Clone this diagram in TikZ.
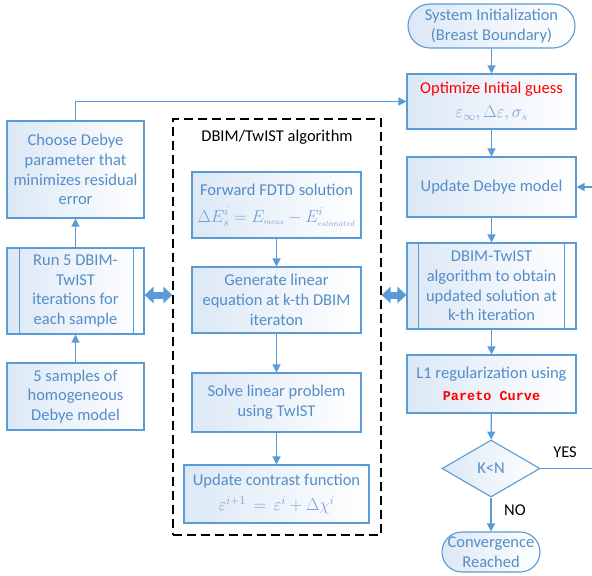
\documentclass[tikz,border=0pt]{standalone}
\usepackage{fontspec}
\setmainfont{Carlito}
\newfontfamily\codefont{Liberation Mono}
\usetikzlibrary{arrows.meta,shapes.geometric}
\definecolor{bl}{RGB}{91,155,213}
\definecolor{tx}{RGB}{84,141,200}
\definecolor{mt}{RGB}{118,160,212}
\definecolor{fl}{RGB}{220,232,246}
\tikzset{
  txt/.style={font=\fontsize{16.5bp}{19.8bp}\selectfont},
  box/.style={txt, draw=bl, line width=1.1bp, left color=fl, right color=white,
    text=tx, align=center, inner sep=0pt},
  arr/.style={draw=bl, line width=1.3bp, -{Triangle[length=8bp,width=8bp]}},
  dblarr/.style={draw=bl, line width=7bp, {Triangle[length=9bp,width=16bp]}-{Triangle[length=9bp,width=16bp]}},
  procline/.style={draw=bl, line width=1.1bp}
}
\begin{document}
\begin{tikzpicture}[x=1bp,y=-1bp]
\clip (0,0) rectangle (592,576);
\fill[white] (0,0) rectangle (592,576);

% right column
\node[box, minimum width=167bp, minimum height=44bp, rounded corners=22bp] (init) at (491.5,26) {System Initialization\\(Breast Boundary)};
\node[box, minimum width=169bp, minimum height=55bp] (opt) at (491.5,101.5) {\textcolor{red}{Optimize Initial guess}\\[4bp]{\color{mt}$\varepsilon_\infty, \Delta\varepsilon, \sigma_s$}};
\node[box, minimum width=169bp, minimum height=60bp] (upd) at (491.5,187) {Update Debye model};
\node[box, minimum width=169bp, minimum height=86bp] (dbt) at (491.5,286) {DBIM-TwIST\\algorithm to obtain\\updated solution at\\k-th iteration};
\draw[procline] ([xshift=12bp]dbt.north west) -- ([xshift=12bp]dbt.south west);
\draw[procline] ([xshift=-12bp]dbt.north east) -- ([xshift=-12bp]dbt.south east);
\node[box, minimum width=169bp, minimum height=58bp] (l1) at (491.5,384) {L1 regularization using\\[2bp]{\codefont\fontsize{13.5bp}{16bp}\selectfont\bfseries\color{red}Pareto Curve}};
\node[box, diamond, aspect=1.72, minimum width=98bp, minimum height=57bp] (dia) at (491,468.5) {K<N};
\node[box, minimum width=98bp, minimum height=40bp, rounded corners=20bp] (conv) at (491,552) {Convergence\\Reached};

% left column
\node[box, minimum width=137bp, minimum height=97bp] (choose) at (75.5,169.5) {Choose Debye\\parameter that\\minimizes residual\\error};
\node[box, minimum width=137bp, minimum height=86bp] (run) at (75.5,291) {Run 5 DBIM-\\TwIST\\iterations for\\each sample};
\draw[procline] ([xshift=13bp]run.north west) -- ([xshift=13bp]run.south west);
\draw[procline] ([xshift=-11bp]run.north east) -- ([xshift=-11bp]run.south east);
\node[box, minimum width=137bp, minimum height=67bp] (samp) at (75.5,396.5) {5 samples of\\homogeneous\\Debye model};

% middle container
\node[draw=black, line width=1.2bp, dash pattern=on 9bp off 5bp, minimum width=208bp, minimum height=416bp, inner sep=0pt] (alg) at (277,327) {};
\node[txt, text=black] (title) at (277,137) {DBIM/TwIST algorithm};
\node[box, minimum width=169bp, minimum height=66bp] (fdtd) at (276.5,205) {Forward FDTD solution\\[7bp]{\color{mt}\fontsize{16.5bp}{18bp}\selectfont$\Delta E_s^i = E_{\scriptscriptstyle meas} - E^i_{\scriptscriptstyle estimated}$}};
\node[box, minimum width=169bp, minimum height=66bp] (gen) at (276.5,300) {Generate linear\\equation at k-th DBIM\\iteraton};
\node[box, minimum width=169bp, minimum height=59bp] (solve) at (276.5,402.5) {Solve linear problem\\using TwIST};
\node[box, minimum width=185bp, minimum height=58bp] (upc) at (276.5,494) {Update contrast function\\[6bp]{\color{mt}$\varepsilon^{i+1} \,=\, \varepsilon^i + \Delta\chi^i$}};

% connectors
\draw[arr] (init) -- (opt);
\draw[arr] (opt) -- (upd);
\draw[arr] (upd) -- (dbt);
\draw[arr] (dbt) -- (l1);
\draw[arr] (l1) -- (dia);
\draw[arr] (dia) -- (conv);
\coordinate (yr) at (597,0);
\draw[arr] (dia.east) -- (dia.east -| yr) -- (upd.east -| yr) -- (upd.east);
\draw[arr] (choose.north) |- (opt.west);
\draw[arr] (samp) -- (run);
\draw[arr] (run) -- (choose);
\draw[arr] (fdtd) -- (gen);
\draw[arr] (gen) -- (solve);
\draw[arr] (solve) -- (upc);
\coordinate (dl) at (0,295);
\draw[dblarr] (run.east |- dl) -- (alg.west |- dl);
\draw[dblarr] (alg.east |- dl) -- (dbt.west |- dl);

\node[txt, text=black] (yes) at (565,452) {YES};
\node[txt, text=black] (no) at (515,510) {NO};
\end{tikzpicture}
\end{document}
